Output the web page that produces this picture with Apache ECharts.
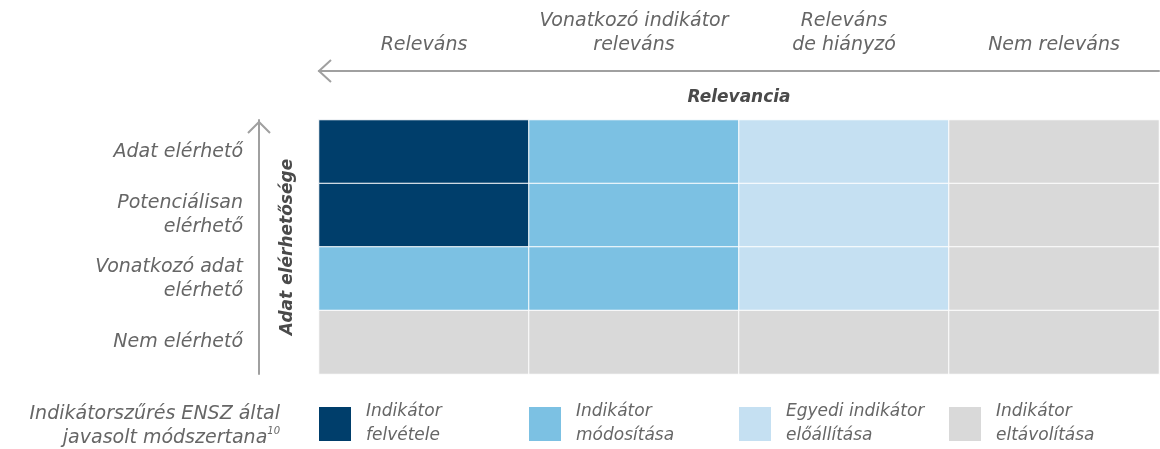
<!DOCTYPE html>
<html>
<head>
<meta charset="utf-8">
<script src="https://cdn.jsdelivr.net/npm/echarts@6/dist/echarts.min.js"></script>
<style>
  html, body { margin: 0; padding: 0; background: #fff; }
  #chart { width: 1160px; height: 449px; }
</style>
</head>
<body>
<div id="chart"></div>
<script>
// relevancia (x) and adat elérhetősége (y, top to bottom)
const relevance = ['Releváns', 'Vonatkozó indikátor\nreleváns', 'Releváns\nde hiányzó', 'Nem releváns'];
const availability = ['Adat elérhető', 'Potenciálisan\nelérhető', 'Vonatkozó adat\nelérhető', 'Nem elérhető'];
// action categories
const actions = ['Indikátor\nfelvétele', 'Indikátor\nmódosítása', 'Egyedi indikátor\nelőállítása', 'Indikátor\neltávolítása'];
const actionColors = ['#003e6b', '#7cc1e3', '#c5e0f2', '#d9d9d9'];
// matrix: row = availability, col = relevance, value = action index
const matrix = [
    [0, 1, 2, 3],
    [0, 1, 2, 3],
    [1, 1, 2, 3],
    [3, 3, 3, 3]
];

const font = 'DejaVu Sans';
const textColor = '#666666';
const axisGray = '#a0a0a0';

let chart = echarts.init(document.getElementById('chart'));

const series = actions.map((name, k) => {
    const data = [];
    matrix.forEach((row, r) => row.forEach((v, c) => {
        if (v === k) data.push([c, r, v]);
    }));
    return {
        type: 'heatmap',
        name: name,
        data: data,
        itemStyle: { color: actionColors[k], borderColor: '#fff', borderWidth: 1 },
        emphasis: { disabled: true }
    };
});

const legendLefts = [317, 527, 737, 947];
const legends = actions.map((name, k) => ({
    data: [name],
    left: legendLefts[k],
    top: 400,
    padding: 0,
    orient: 'horizontal',
    icon: 'rect',
    itemWidth: 34,
    itemHeight: 36,
    selectedMode: false,
    textStyle: {
        fontFamily: font, fontStyle: 'italic', fontWeight: 200,
        fontSize: 17, color: textColor, lineHeight: 24,
        padding: [0, 0, 0, 9]
    }
}));

const option = {
    animation: false,
    grid: { left: 319, right: 1, top: 120, bottom: 75 },
    legend: legends,
    xAxis: {
        type: 'category',
        position: 'top',
        offset: 49,
        data: relevance,
        name: 'Relevancia',
        nameLocation: 'middle',
        nameGap: -35,
        nameTextStyle: { fontFamily: font, fontStyle: 'italic', fontWeight: 'bold', fontSize: 17, color: '#4a4a4a' },
        axisLine: { show: true, lineStyle: { color: axisGray, width: 2 } },
        axisTick: { show: false },
        splitLine: { show: false },
        axisLabel: {
            interval: 0, hideOverlap: false,
            margin: 14, fontFamily: font, fontStyle: 'italic', fontWeight: 200,
            fontSize: 19, color: textColor, lineHeight: 24, align: 'center'
        }
    },
    yAxis: {
        type: 'category',
        inverse: true,
        offset: 60,
        data: availability,
        name: 'Adat elérhetősége',
        nameLocation: 'middle',
        nameGap: -37,
        nameRotate: 90,
        nameTextStyle: { fontFamily: font, fontStyle: 'italic', fontWeight: 'bold', fontSize: 17, color: '#4a4a4a' },
        axisLine: { show: true, lineStyle: { color: axisGray, width: 2 } },
        axisTick: { show: false },
        splitLine: { show: false },
        axisLabel: {
            interval: 0, hideOverlap: false,
            margin: 16, fontFamily: font, fontStyle: 'italic', fontWeight: 200,
            fontSize: 19, color: textColor, lineHeight: 24, align: 'right'
        }
    },
    graphic: [
        // arrow heads
        { type: 'polyline', shape: { points: [[331, 60], [319, 71], [331, 82]] },
          style: { stroke: axisGray, lineWidth: 2, fill: null } },
        { type: 'polyline', shape: { points: [[248, 133], [259, 122], [270, 133]] },
          style: { stroke: axisGray, lineWidth: 2, fill: null } },
        {
            type: 'text', x: 280, y: 402,
            style: {
                text: '{t|Indikátorszűrés ENSZ által}\n{t|javasolt módszertana}{s|10}',
                align: 'right', verticalAlign: 'top',
                rich: {
                    t: { fontFamily: font, fontStyle: 'italic', fontWeight: 200, fontSize: 19, fill: textColor, lineHeight: 24 },
                    s: { fontFamily: font, fontStyle: 'italic', fontWeight: 200, fontSize: 10, fill: textColor, lineHeight: 24, verticalAlign: 'top', padding: [0, 0, 10, 0] }
                }
            }
        }
    ],
    series: series
};
chart.setOption(option);
</script>
</body>
</html>
